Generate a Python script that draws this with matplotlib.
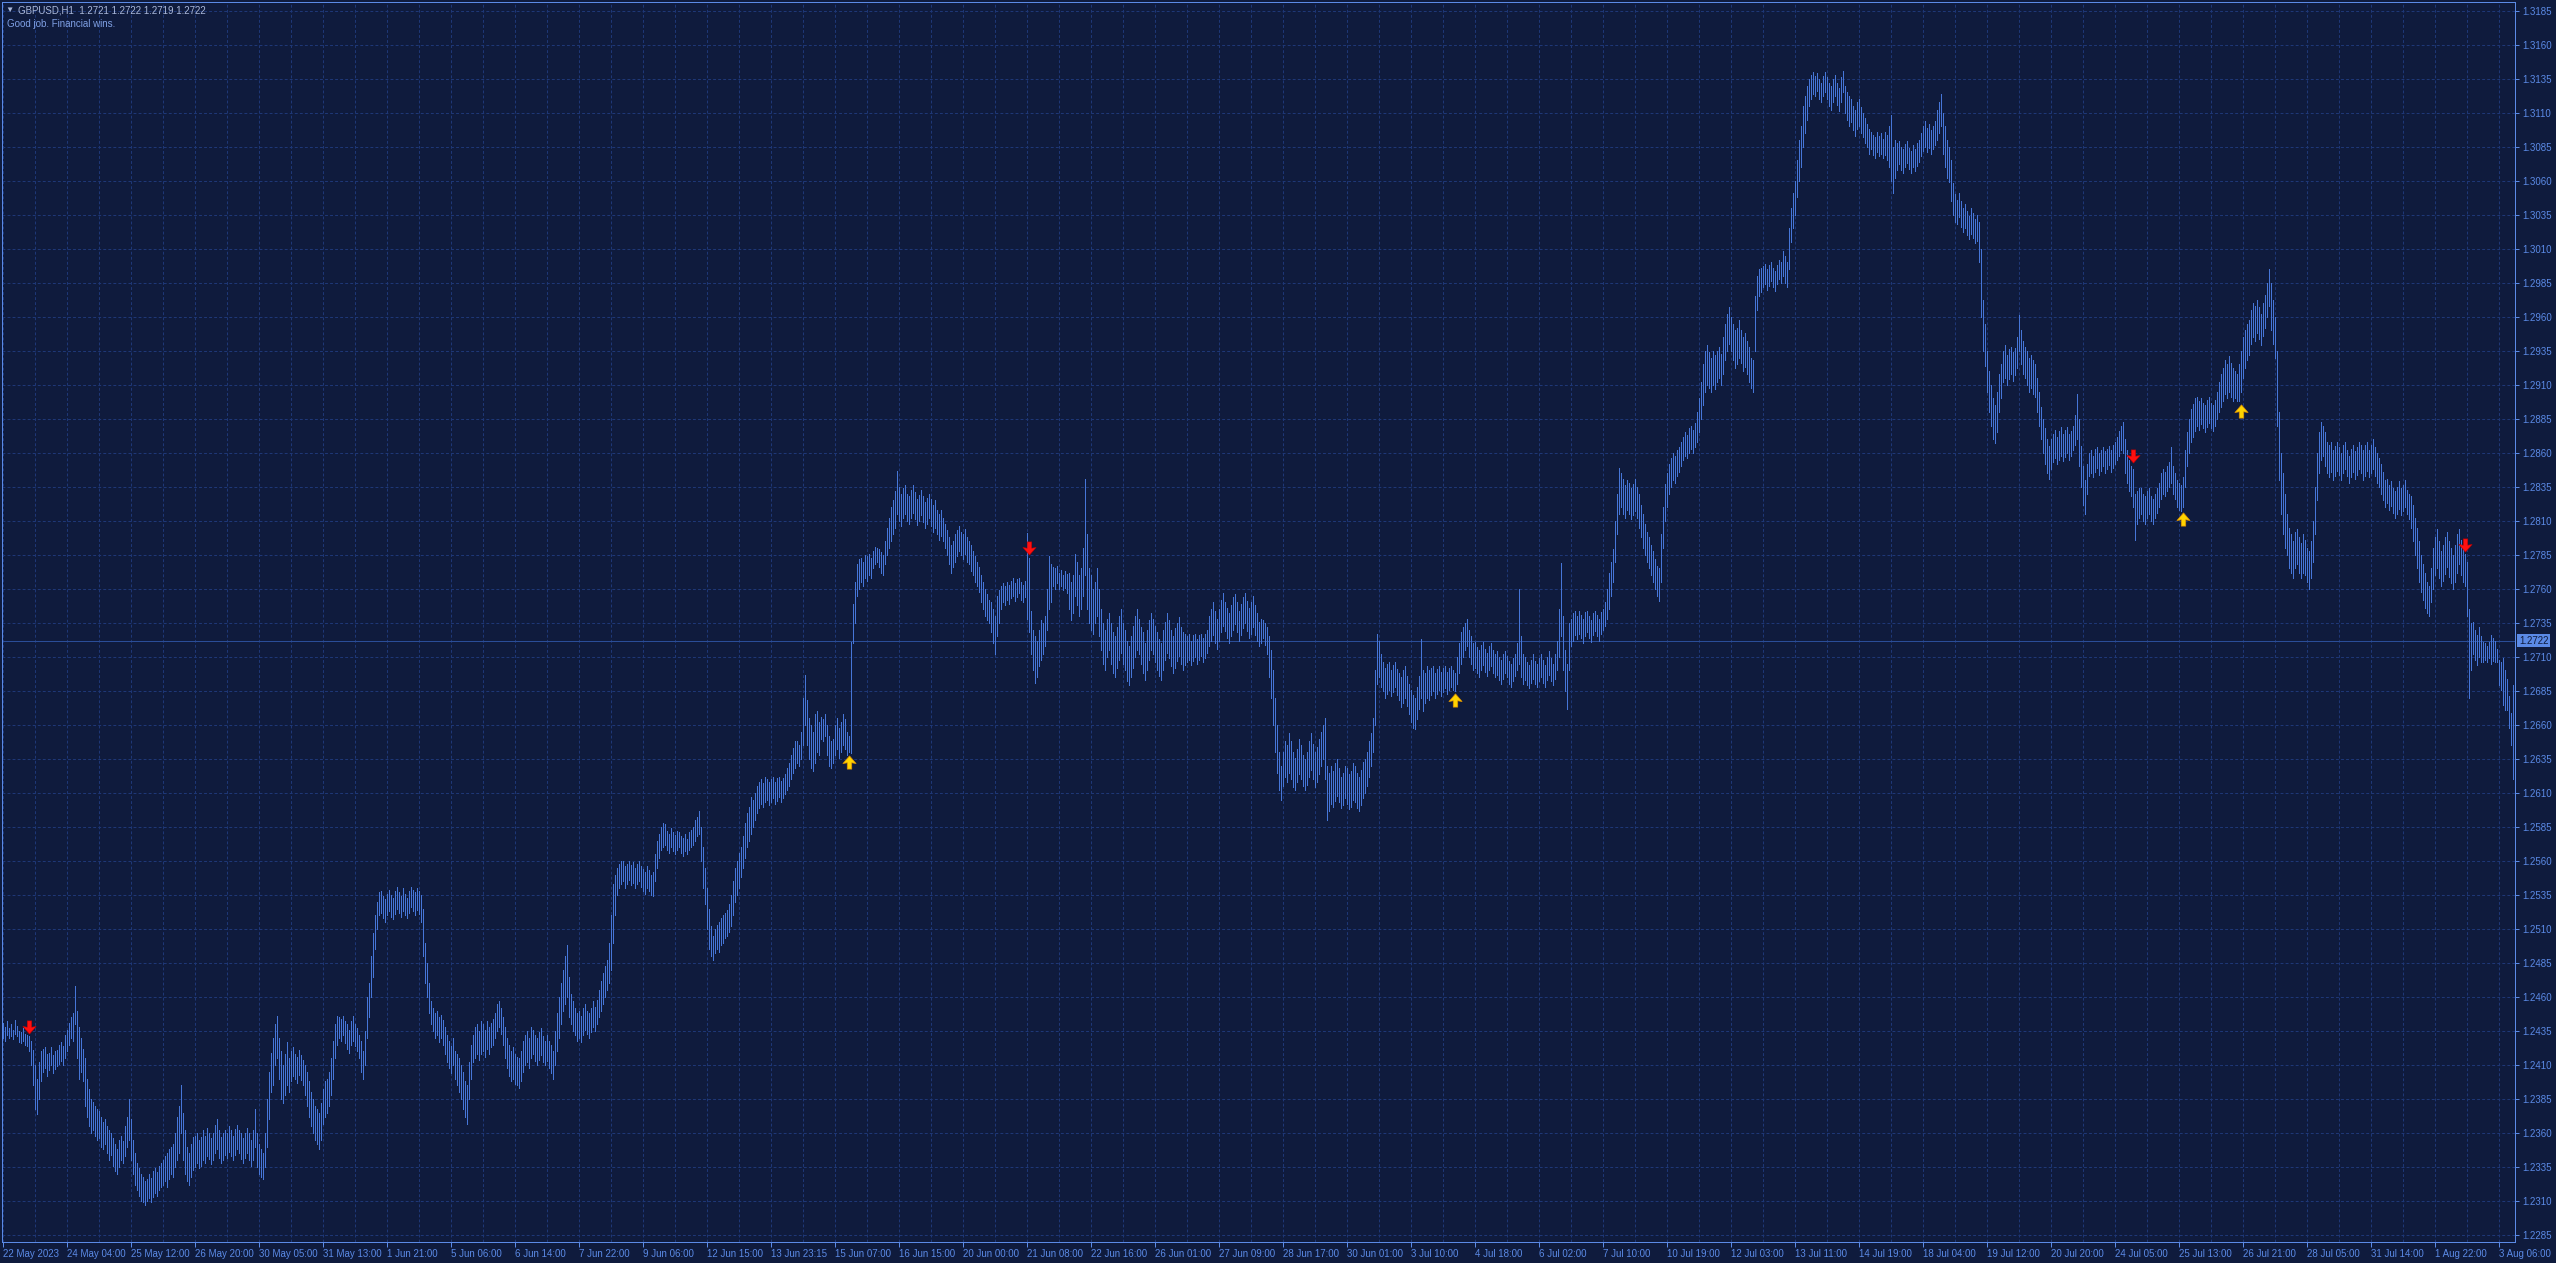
import numpy as np
import matplotlib
matplotlib.use("Agg")
import matplotlib.pyplot as plt
from matplotlib.path import Path

# ---------------- data (prices in pips above 1.2000, one H1 bar each) ----------------
bar_low_pips = [
    430,428,432,430,431,429,433,431,427,426,428,425,424,420,410,395,
    378,374,385,398,405,408,402,406,410,404,407,409,411,413,410,415,
    420,425,430,428,440,415,400,405,398,380,372,365,360,362,358,355,
    356,350,348,352,345,340,344,336,332,330,335,340,338,343,350,355,
    340,330,322,318,314,310,309,307,310,312,309,313,316,314,318,320,
    322,325,320,326,330,328,335,340,345,360,340,330,325,322,328,333,
    335,338,334,336,340,338,343,341,337,340,345,348,342,338,340,344,
    342,346,343,340,344,348,345,341,338,342,345,340,336,340,350,335,
    330,328,326,335,350,370,390,395,410,415,400,385,382,388,395,390,
    398,402,400,397,403,399,395,388,380,372,365,360,355,352,348,355,
    367,372,375,380,388,400,415,425,430,428,432,426,422,419,425,428,
    424,420,415,405,400,410,430,445,460,475,495,510,520,522,518,515,
    520,523,519,517,521,525,522,519,523,520,518,522,526,523,520,524,
    521,515,490,470,460,448,440,435,430,432,427,430,425,418,412,408,
    404,410,400,395,390,385,378,372,367,385,400,412,415,418,414,418,
    420,416,422,418,423,425,430,435,438,433,425,415,408,402,398,400,
    396,395,393,398,405,410,412,408,415,418,413,410,414,417,412,410,
    413,408,404,400,410,420,430,440,450,455,460,445,440,435,432,428,
    430,427,432,436,433,430,434,438,435,440,445,450,455,460,465,470,
    480,500,520,535,540,543,545,540,543,546,542,544,540,543,545,541,
    538,536,540,538,535,534,545,555,562,568,570,572,568,566,570,567,
    565,568,570,566,564,567,565,568,570,572,575,578,580,560,540,528,
    510,495,490,487,492,495,493,498,500,503,505,508,512,520,530,535,
    540,548,555,562,570,575,580,585,590,595,599,602,600,603,605,601,
    603,606,602,604,607,603,606,609,612,615,620,625,628,632,630,635,
    645,660,645,635,628,626,632,640,638,650,648,652,638,630,628,632,
    638,642,636,640,645,642,638,640,639,720,735,755,760,765,762,768,
    766,770,768,775,778,780,776,772,770,778,785,790,795,800,805,815,
    810,806,812,815,810,808,812,816,811,807,810,814,809,805,808,812,
    806,802,805,800,796,799,795,790,785,778,772,776,780,784,788,785,
    782,786,780,778,773,770,765,762,758,750,745,740,737,735,728,720,
    712,725,735,745,750,748,752,749,753,755,751,754,757,752,750,754,
    738,728,712,700,691,695,703,708,712,718,730,745,750,762,760,764,
    760,762,759,761,757,745,737,742,755,748,740,745,755,770,745,735,
    730,727,735,740,725,715,705,700,710,715,705,698,695,702,708,713,
    705,700,692,689,695,702,710,715,712,705,698,693,700,708,715,712,
    706,700,696,693,700,708,713,709,703,698,702,707,711,705,700,704,
    706,708,704,707,710,705,708,711,706,709,713,718,722,726,720,716,
    722,728,733,729,724,720,725,730,734,728,722,726,731,735,729,724,
    727,732,726,722,718,720,724,719,712,695,680,660,640,625,612,605,
    615,622,618,625,620,614,612,618,624,620,615,612,616,622,627,620,
    614,618,624,630,635,620,590,597,602,600,604,608,603,599,601,606,
    602,598,600,605,603,599,597,601,606,610,615,622,630,640,660,690,
    695,688,685,680,683,686,681,684,688,682,678,673,676,680,674,668,
    662,658,657,664,672,680,670,676,680,678,682,685,680,683,686,681,
    684,687,683,686,688,686,685,690,698,705,710,715,718,710,705,700,
    702,698,695,700,704,699,696,700,703,698,695,697,693,690,694,698,
    695,690,688,692,696,700,705,695,690,693,689,687,691,694,690,688,
    692,695,691,688,693,697,692,689,694,700,710,725,700,685,672,700,
    718,722,726,723,727,724,720,725,728,724,721,726,729,725,722,727,
    730,733,738,745,755,765,780,800,815,820,815,812,818,815,811,814,
    817,812,805,798,790,785,780,775,770,765,760,755,751,765,790,810,
    820,830,835,840,838,843,846,850,855,858,856,860,863,860,864,868,
    875,885,895,905,910,908,905,910,907,912,915,910,918,928,935,940,
    935,928,922,925,930,926,920,923,918,912,908,905,935,965,975,978,
    982,984,980,983,986,982,979,984,988,985,990,985,982,995,1015,1025,
    1035,1048,1060,1070,1085,1095,1105,1115,1120,1124,1122,1126,1120,1118,1122,1125,
    1120,1115,1112,1118,1122,1116,1111,1118,1125,1110,1105,1100,1103,1097,1093,1098,
    1100,1095,1092,1088,1085,1080,1083,1079,1077,1081,1078,1080,1077,1079,1075,1070,
    1060,1051,1062,1068,1072,1068,1066,1070,1073,1069,1066,1070,1067,1071,1074,1078,
    1082,1085,1081,1084,1080,1083,1086,1090,1095,1100,1080,1070,1062,1059,1045,1035,
    1030,1028,1033,1026,1022,1025,1020,1017,1021,1018,1014,1016,1000,960,935,924,
    905,890,880,870,867,875,890,900,912,915,910,914,918,913,917,922,
    935,925,918,915,910,905,908,903,901,890,880,870,860,852,845,841,
    848,853,856,852,855,858,854,857,860,855,858,862,866,870,850,835,
    822,815,830,843,845,842,846,849,844,847,850,845,848,851,846,849,
    852,855,858,862,860,845,838,832,828,820,796,808,812,815,810,808,
    812,815,810,808,812,816,820,826,830,828,832,835,838,830,826,820,
    818,817,820,835,850,860,868,872,876,880,877,881,878,875,879,882,
    878,876,880,885,890,894,898,903,900,905,901,898,900,898,898,905,
    915,922,928,932,940,945,942,948,944,939,946,952,960,968,950,940,
    930,880,840,815,800,790,785,775,772,768,775,778,772,768,772,770,
    765,760,768,780,800,825,845,855,858,850,845,842,846,840,843,847,
    844,840,845,848,843,838,842,846,841,844,848,845,840,843,847,842,
    845,848,843,838,835,830,825,820,823,818,821,816,812,815,819,814,
    817,820,815,811,805,795,785,775,765,758,752,746,742,740,750,760,
    770,775,768,762,766,771,776,769,764,760,765,772,778,770,765,762,
    740,680,700,712,708,704,710,706,706,708,706,709,705,707,706,706,
    689,686,675,671,671,658,645,620,
]

bar_high_pips = [
    441,438,442,437,440,436,443,439,435,434,437,433,432,431,428,421,
    410,400,412,420,422,423,418,419,423,417,420,421,425,427,424,432,
    436,441,445,448,468,450,438,430,422,415,400,392,385,383,380,378,
    376,372,368,370,365,362,360,356,352,348,355,358,354,365,372,385,
    370,355,345,338,334,330,328,325,326,330,327,332,334,331,336,338,
    340,343,345,348,350,352,360,372,380,395,375,362,350,345,352,357,
    358,360,355,357,362,358,364,360,356,360,366,370,362,357,360,362,
    360,365,362,358,363,366,362,360,356,360,364,360,355,362,378,360,
    352,348,345,360,385,405,419,430,440,446,430,420,410,418,427,415,
    420,423,418,416,421,417,414,410,405,398,390,385,380,378,375,382,
    392,398,400,405,415,428,440,446,445,444,446,442,440,436,442,446,
    440,437,432,428,420,435,460,470,490,507,520,530,537,538,534,532,
    536,539,535,533,538,541,537,534,540,536,533,538,541,539,537,540,
    538,535,525,500,485,470,457,452,448,450,445,447,443,438,432,428,
    424,430,420,418,415,410,405,398,395,412,425,432,438,440,435,442,
    440,436,442,438,441,444,448,455,457,452,445,438,430,425,420,423,
    418,416,415,420,428,432,435,430,438,436,432,430,434,437,431,428,
    432,428,425,420,435,448,460,470,480,490,498,475,462,457,452,448,
    450,446,452,455,450,448,452,457,453,458,465,472,478,483,487,500,
    520,543,550,555,558,560,560,556,558,560,557,559,555,558,560,556,
    554,552,556,553,550,552,565,575,580,585,588,587,582,580,584,581,
    579,582,581,578,577,580,576,581,583,585,590,592,597,585,570,555,
    540,525,512,505,510,513,515,518,520,522,524,528,535,545,555,560,
    566,570,578,588,595,600,607,605,610,615,618,620,617,622,620,618,
    620,622,618,621,622,619,621,624,628,632,638,643,648,648,645,655,
    680,697,678,665,660,655,668,670,662,666,664,668,660,652,648,650,
    660,665,658,662,668,664,655,652,721,749,765,778,782,783,780,785,
    784,786,783,788,791,790,789,787,785,795,805,812,820,825,832,847,
    835,830,834,836,830,828,833,836,831,826,829,833,828,824,827,830,
    826,822,825,818,815,818,812,808,803,798,792,795,800,803,806,802,
    800,804,798,795,792,788,784,780,776,770,765,760,756,752,750,745,
    740,755,759,762,764,762,765,763,766,768,764,767,768,765,763,766,
    801,783,744,730,725,722,730,737,735,740,760,784,778,776,775,777,
    772,774,770,773,771,772,765,770,786,780,770,775,790,841,800,775,
    770,760,765,775,760,745,735,730,738,742,735,728,725,732,740,745,
    735,730,722,718,725,733,740,745,738,732,728,720,730,737,742,738,
    733,728,723,720,730,736,742,737,730,725,731,735,739,732,728,727,
    725,727,722,726,727,723,726,727,724,727,730,740,745,750,744,738,
    745,752,757,750,746,742,748,754,756,750,744,749,754,757,751,746,
    750,755,748,742,736,738,737,735,732,725,715,700,680,660,640,630,
    640,648,645,654,648,640,636,642,650,645,638,635,640,648,654,646,
    640,644,650,655,660,665,630,625,630,626,632,635,628,622,625,630,
    628,624,626,632,630,625,622,627,633,635,640,648,654,665,700,727,
    722,712,706,702,705,706,700,704,706,701,698,695,700,703,696,690,
    686,682,680,688,696,723,700,698,703,700,702,703,698,701,703,699,
    702,703,699,702,703,700,698,710,720,728,732,735,738,730,725,720,
    721,717,715,719,721,716,713,718,720,715,712,714,710,708,712,714,
    711,707,705,709,712,720,760,725,712,710,706,704,708,712,707,705,
    709,712,708,704,710,714,709,705,712,722,745,779,740,715,705,735,
    738,742,744,740,744,741,738,743,744,740,737,742,744,741,738,743,
    745,750,760,772,780,789,810,830,849,845,841,836,840,838,834,837,
    841,835,830,822,815,808,802,798,792,788,782,777,775,800,820,837,
    845,852,856,860,858,862,864,868,872,875,873,878,880,877,882,890,
    900,912,925,935,939,934,930,935,932,935,938,933,945,955,962,967,
    960,955,950,952,958,950,945,948,942,938,930,928,975,990,995,996,
    997,999,995,998,1000,996,994,998,1002,1000,1008,1005,1000,1025,1040,1051,
    1060,1075,1090,1100,1115,1122,1130,1135,1138,1140,1137,1139,1135,1132,1137,1140,
    1136,1132,1130,1135,1138,1132,1128,1136,1141,1130,1125,1122,1120,1115,1112,1118,
    1120,1114,1110,1106,1102,1098,1096,1094,1092,1096,1093,1095,1091,1096,1094,1100,
    1108,1085,1090,1088,1089,1085,1083,1087,1089,1084,1082,1086,1083,1088,1090,1095,
    1100,1104,1099,1102,1097,1100,1104,1112,1118,1124,1110,1100,1090,1085,1075,1058,
    1050,1046,1051,1045,1040,1043,1038,1034,1040,1036,1032,1035,1030,1010,972,955,
    935,920,910,900,895,905,918,925,935,939,932,936,938,934,937,945,
    961,950,942,938,935,930,932,928,925,915,905,894,885,878,870,865,
    870,874,877,872,876,879,874,877,879,874,876,880,888,903,885,865,
    850,840,852,860,862,858,863,864,860,862,864,861,863,865,862,866,
    868,872,876,880,883,870,862,855,850,848,830,832,834,834,830,828,
    832,834,828,826,830,834,838,845,848,846,850,853,864,850,845,840,
    838,836,842,862,875,885,892,896,900,901,898,900,897,895,899,901,
    897,895,899,905,912,918,922,928,925,931,926,922,920,918,925,935,
    945,950,955,958,965,970,968,972,967,962,970,976,985,995,985,972,
    960,935,890,860,845,830,815,805,800,795,802,804,798,794,800,796,
    790,788,795,810,835,860,875,883,880,875,868,866,868,862,865,868,
    864,860,866,868,862,858,863,866,861,864,868,866,862,866,868,862,
    866,870,864,860,856,852,846,840,841,836,839,834,832,835,839,834,
    836,840,833,830,828,822,812,805,795,785,778,772,765,762,775,790,
    798,804,795,788,792,798,802,795,790,785,792,800,804,796,790,786,
    780,745,735,736,730,726,732,725,721,720,718,721,726,724,722,716,
    708,706,709,700,694,681,669,689,
]

sell_arrow_bars = [13, 513, 1065, 1231]
sell_arrow_prices = [1.2438, 1.2790, 1.2858, 1.2792]
buy_arrow_bars = [423, 726, 1090, 1119]
buy_arrow_prices = [1.2633, 1.2678, 1.2811, 1.2891]

time_labels = ["22 May 2023", "24 May 04:00", "25 May 12:00", "26 May 20:00", "30 May 05:00",
               "31 May 13:00", "1 Jun 21:00", "5 Jun 06:00", "6 Jun 14:00", "7 Jun 22:00",
               "9 Jun 06:00", "12 Jun 15:00", "13 Jun 23:15", "15 Jun 07:00", "16 Jun 15:00",
               "20 Jun 00:00", "21 Jun 08:00", "22 Jun 16:00", "26 Jun 01:00", "27 Jun 09:00",
               "28 Jun 17:00", "30 Jun 01:00", "3 Jul 10:00", "4 Jul 18:00", "6 Jul 02:00",
               "7 Jul 10:00", "10 Jul 19:00", "12 Jul 03:00", "13 Jul 11:00", "14 Jul 19:00",
               "18 Jul 04:00", "19 Jul 12:00", "20 Jul 20:00", "24 Jul 05:00", "25 Jul 13:00",
               "26 Jul 21:00", "28 Jul 05:00", "31 Jul 14:00", "1 Aug 22:00", "3 Aug 06:00"]
bars_per_label = 32

price_ticks = [round(1.2285 + 0.0025 * k, 4) for k in range(37)]
current_price = 1.2722
header_text = "GBPUSD,H1  1.2721 1.2722 1.2719 1.2722"
comment_text = "Good job. Financial wins."

# ---------------- style ----------------
W, H, DPI = 2556, 1263, 100
BG = "#0f1b3d"
BAR = "#4676d8"
GRID = "#1e3776"
AXC = "#5b8ae6"
PX = 72.0 / DPI  # one pixel in points

plt.rcParams['font.family'] = ['Liberation Sans', 'DejaVu Sans']

assert len(bar_low_pips) == len(bar_high_pips), (len(bar_low_pips), len(bar_high_pips))
n = len(bar_low_pips)
lows = 1.2 + np.array(bar_low_pips) / 10000.0
highs = 1.2 + np.array(bar_high_pips) / 10000.0
idx = np.arange(n)

fig = plt.figure(figsize=(W / DPI, H / DPI), dpi=DPI, facecolor=BG)
ax = fig.add_axes([2 / W, 21 / H, 2513 / W, 1240 / H])
ax.set_facecolor(BG)
ax.set_xlim(-0.5, 1256)
ax.set_ylim(1.22799, 1.31914)

# grid
dash = (4 * PX, 3 * PX)
for p in price_ticks:
    ax.axhline(p, color=GRID, lw=PX, dashes=dash, zorder=1)
for b in range(0, 1257, 16):
    ax.axvline(b, color=GRID, lw=PX, dashes=dash, zorder=1)

# current price line
ax.axhline(current_price, color="#2a4d98", lw=PX, zorder=2)

# bars
ax.vlines(idx, lows, highs, colors=BAR, linewidth=PX, antialiased=False, zorder=3)

# arrows
down = Path([(-0.17, 0.5), (0.17, 0.5), (0.17, 0.02), (0.5, 0.08), (0.0, -0.5),
             (-0.5, 0.08), (-0.17, 0.02), (-0.17, 0.5)],
            [Path.MOVETO] + [Path.LINETO] * 6 + [Path.CLOSEPOLY])
up = Path([(x, -y) for x, y in down.vertices], down.codes)
ax.plot(sell_arrow_bars, sell_arrow_prices, ls="none", marker=down, ms=9.5,
        mfc="#ff1010", mec="#c00000", mew=0.4, zorder=5)
ax.plot(buy_arrow_bars, buy_arrow_prices, ls="none", marker=up, ms=9.5,
        mfc="#ffd400", mec="#e09000", mew=0.5, zorder=5)

# spines
for s in ax.spines.values():
    s.set_color(AXC)
    s.set_linewidth(PX)

# price axis (right)
ax.yaxis.tick_right()
ax.set_yticks(price_ticks)
ax.set_yticklabels([f"{p:.4f}" for p in price_ticks])
ax.tick_params(axis='y', colors=AXC, labelcolor=AXC, length=3, width=PX,
               labelsize=7, pad=2, direction='out')

# time axis (bottom)
xt = [bars_per_label * k for k in range(len(time_labels))]
ax.set_xticks(xt)
ax.set_xticklabels(time_labels, ha='left')
ax.tick_params(axis='x', colors=AXC, labelcolor=AXC, length=3.5, width=PX,
               labelsize=7, pad=1.5, direction='out')

# current price box
fig.text(2519 / W, 1 - 640.5 / H, f"{current_price:.4f}", fontsize=7, color=BG,
         ha='left', va='center',
         bbox=dict(boxstyle="square,pad=0.18", fc=AXC, ec="none"))

# header
fig.text(9 / W, 1 - 10.5 / H, "\u25BC", fontsize=6, color="#aab8da", ha='center', va='center')
fig.text(18 / W, 1 - 10.5 / H, header_text, fontsize=7, color="#aab8da", ha='left', va='center')
fig.text(7 / W, 1 - 24 / H, comment_text, fontsize=7, color="#7fa0e4", ha='left', va='center')

fig.savefig("out.png", dpi=DPI, facecolor=BG)
